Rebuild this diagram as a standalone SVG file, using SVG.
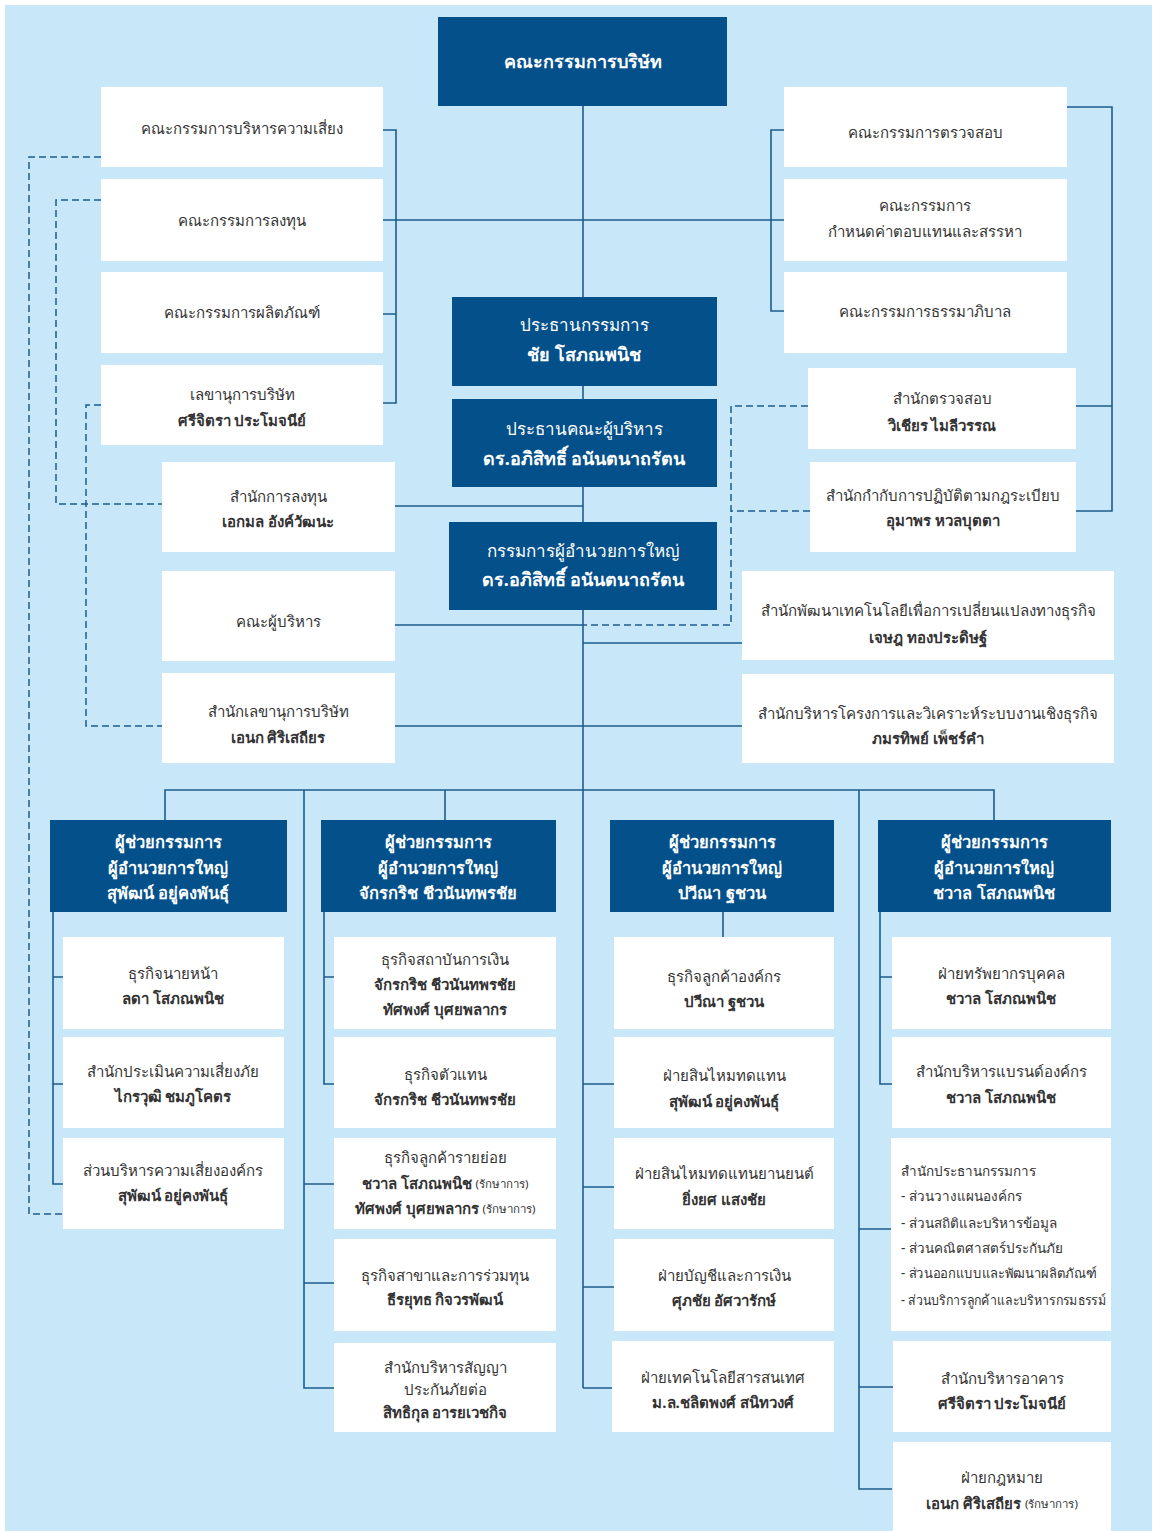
<svg xmlns="http://www.w3.org/2000/svg" width="1157" height="1531" viewBox="0 0 1157 1531">
<style>
.bg{fill:#C8E8FA}
.dk{fill:#04508A}
.wt{fill:#FFFFFF}
.ln{stroke:#1C5C8F;stroke-width:1.6;fill:none}
.ds{stroke:#1C5C8F;stroke-width:1.5;fill:none;stroke-dasharray:7 4}
text{font-family:"Noto Sans","DejaVu Sans",sans-serif;text-anchor:middle;dominant-baseline:central}
.t{fill:#333333;font-size:15px}
.tb{fill:#333333;font-size:15px;font-weight:bold}
.ts{fill:#333333;font-size:11.5px;font-weight:normal}
.h{fill:#FFFFFF;font-size:16.5px;font-weight:bold}
.hc{fill:#FFFFFF;font-size:18px;font-weight:bold}
.hn{fill:#FFFFFF;font-size:17px}
.tl{fill:#333333;font-size:13.5px;text-anchor:start}
</style>
<rect class="bg" x="5" y="5" width="1147" height="1526"/>
<g id="connectors">
<path class="ln" d="M583,106 V1388"/>
<path class="ln" d="M383,130 H396 V403 H383 M383,314 H396 M383,220 H784"/>
<path class="ln" d="M784,130 H771 V311 H784"/>
<path class="ln" d="M1067,107 H1112 V511 H1076 M1076,406 H1112"/>
<path class="ln" d="M395,506 H583 M395,625 H583 M395,726 H742 M583,643 H742"/>
<path class="ln" d="M165,820 V790 H994 V820 M445,790 V820"/>
<path class="ln" d="M53,912 V1184 H63 M53,977 H63 M53,1084 H63"/>
<path class="ln" d="M324,912 V1084 H334 M324,977 H334"/>
<path class="ln" d="M304,790 V1388 H334 M304,1184 H334 M304,1283 H334"/>
<path class="ln" d="M723,912 V937 M583,1084 H614 M583,1187 H614 M583,1287 H614 M583,1388 H612"/>
<path class="ln" d="M880,912 V1084 H892 M880,977 H892"/>
<path class="ln" d="M859,790 V1489 H892 M859,1229 H891 M859,1387 H893"/>
<path class="ds" d="M101,157 H29 V1214 H63"/>
<path class="ds" d="M101,200 H56 V504 H162"/>
<path class="ds" d="M101,405 H86 V726 H162"/>
<path class="ds" d="M808,406 H731 V625 H583 M810,511 H731"/>
</g>
<g id="board"><rect class="dk" x="438" y="17" width="289" height="89"/><text class="hc" x="583" y="61" font-size="20">คณะกรรมการบริษัท</text></g>
<g id="risk"><rect class="wt" x="101" y="87" width="282" height="80"/><text class="t" x="242" y="128" font-size="16.5">คณะกรรมการบริหารความเสี่ยง</text></g>
<g id="invest"><rect class="wt" x="101" y="179" width="282" height="82"/><text class="t" x="242" y="220" font-size="16.5">คณะกรรมการลงทุน</text></g>
<g id="product"><rect class="wt" x="101" y="272" width="282" height="81"/><text class="t" x="242" y="312" font-size="16.5">คณะกรรมการผลิตภัณฑ์</text></g>
<g id="secretary"><rect class="wt" x="101" y="365" width="282" height="80"/><text class="t" x="242" y="394" font-size="16">เลขานุการบริษัท</text><text class="tb" x="242" y="420" font-size="16.5">ศรีจิตรา ประโมจนีย์</text></g>
<g id="audit"><rect class="wt" x="784" y="87" width="283" height="80"/><text class="t" x="925" y="132" font-size="16">คณะกรรมการตรวจสอบ</text></g>
<g id="nomination"><rect class="wt" x="784" y="179" width="283" height="82"/><text class="t" x="925" y="205" font-size="16">คณะกรรมการ</text><text class="t" x="925" y="231" font-size="16">กำหนดค่าตอบแทนและสรรหา</text></g>
<g id="governance"><rect class="wt" x="784" y="272" width="283" height="81"/><text class="t" x="925" y="311" font-size="16">คณะกรรมการธรรมาภิบาล</text></g>
<g id="chairman"><rect class="dk" x="452" y="297" width="265" height="89"/><text class="hn" x="584" y="324">ประธานกรรมการ</text><text class="hc" x="584" y="354">ชัย โสภณพนิช</text></g>
<g id="exec-chair"><rect class="dk" x="452" y="399" width="265" height="88"/><text class="hn" x="584" y="428">ประธานคณะผู้บริหาร</text><text class="hc" x="584" y="458">ดร.อภิสิทธิ์ อนันตนาถรัตน</text></g>
<g id="president"><rect class="dk" x="449" y="522" width="268" height="88"/><text class="hn" x="583" y="550">กรรมการผู้อำนวยการใหญ่</text><text class="hc" x="583" y="579">ดร.อภิสิทธิ์ อนันตนาถรัตน</text></g>
<g id="internal-audit"><rect class="wt" x="808" y="368" width="268" height="81"/><text class="t" x="942" y="398">สำนักตรวจสอบ</text><text class="tb" x="942" y="425">วิเชียร ไมลีวรรณ</text></g>
<g id="compliance"><rect class="wt" x="810" y="462" width="266" height="90"/><text class="t" x="943" y="495">สำนักกำกับการปฏิบัติตามกฎระเบียบ</text><text class="tb" x="943" y="520">อุมาพร หวลบุตตา</text></g>
<g id="investment-office"><rect class="wt" x="162" y="462" width="233" height="90"/><text class="t" x="278" y="496">สำนักการลงทุน</text><text class="tb" x="278" y="521">เอกมล อังค์วัฒนะ</text></g>
<g id="management"><rect class="wt" x="162" y="571" width="233" height="90"/><text class="t" x="278" y="621">คณะผู้บริหาร</text></g>
<g id="corp-secretary"><rect class="wt" x="162" y="673" width="233" height="90"/><text class="t" x="278" y="711">สำนักเลขานุการบริษัท</text><text class="tb" x="278" y="737">เอนก ศิริเสถียร</text></g>
<g id="tech-transform"><rect class="wt" x="742" y="571" width="372" height="89"/><text class="t" x="928" y="610">สำนักพัฒนาเทคโนโลยีเพื่อการเปลี่ยนแปลงทางธุรกิจ</text><text class="tb" x="928" y="637">เจษฎ ทองประดิษฐ์</text></g>
<g id="project-office"><rect class="wt" x="742" y="674" width="372" height="89"/><text class="t" x="928" y="713">สำนักบริหารโครงการและวิเคราะห์ระบบงานเชิงธุรกิจ</text><text class="tb" x="928" y="738">ภมรทิพย์ เพ็ชร์คำ</text></g>
<g id="col1-head"><rect class="dk" x="50" y="820" width="237" height="92"/><text class="h" x="168" y="841">ผู้ช่วยกรรมการ</text><text class="h" x="168" y="867">ผู้อำนวยการใหญ่</text><text class="h" x="168" y="892">สุพัฒน์ อยู่คงพันธุ์</text></g>
<g id="col1-a"><rect class="wt" x="63" y="937" width="221" height="92"/><text class="t" x="173" y="973">ธุรกิจนายหน้า</text><text class="tb" x="173" y="998">ลดา โสภณพนิช</text></g>
<g id="col1-b"><rect class="wt" x="63" y="1037" width="221" height="91"/><text class="t" x="173" y="1071">สำนักประเมินความเสี่ยงภัย</text><text class="tb" x="173" y="1096">ไกรวุฒิ ชมภูโคตร</text></g>
<g id="col1-c"><rect class="wt" x="63" y="1138" width="221" height="91"/><text class="t" x="173" y="1170">ส่วนบริหารความเสี่ยงองค์กร</text><text class="tb" x="173" y="1195">สุพัฒน์ อยู่คงพันธุ์</text></g>
<g id="col2-head"><rect class="dk" x="321" y="820" width="235" height="92"/><text class="h" x="438" y="841">ผู้ช่วยกรรมการ</text><text class="h" x="438" y="867">ผู้อำนวยการใหญ่</text><text class="h" x="438" y="892">จักรกริช ชีวนันทพรชัย</text></g>
<g id="col2-a"><rect class="wt" x="334" y="937" width="222" height="92"/><text class="t" x="445" y="959">ธุรกิจสถาบันการเงิน</text><text class="tb" x="445" y="984">จักรกริช ชีวนันทพรชัย</text><text class="tb" x="445" y="1009">ทัศพงศ์ บุศยพลากร</text></g>
<g id="col2-b"><rect class="wt" x="334" y="1037" width="222" height="91"/><text class="t" x="445" y="1074">ธุรกิจตัวแทน</text><text class="tb" x="445" y="1099">จักรกริช ชีวนันทพรชัย</text></g>
<g id="col2-c"><rect class="wt" x="334" y="1138" width="222" height="91"/><text class="t" x="445" y="1157">ธุรกิจลูกค้ารายย่อย</text><text class="tb" x="445" y="1183">ชวาล โสภณพนิช <tspan class="ts">(รักษาการ)</tspan></text><text class="tb" x="445" y="1208">ทัศพงศ์ บุศยพลากร <tspan class="ts">(รักษาการ)</tspan></text></g>
<g id="col2-d"><rect class="wt" x="334" y="1239" width="222" height="92"/><text class="t" x="445" y="1275">ธุรกิจสาขาและการร่วมทุน</text><text class="tb" x="445" y="1299">ธีรยุทธ กิจวรพัฒน์</text></g>
<g id="col2-e"><rect class="wt" x="334" y="1343" width="222" height="89"/><text class="t" x="445" y="1367">สำนักบริหารสัญญา</text><text class="t" x="445" y="1389">ประกันภัยต่อ</text><text class="tb" x="445" y="1412">สิทธิกุล อารยเวชกิจ</text></g>
<g id="col3-head"><rect class="dk" x="610" y="820" width="224" height="92"/><text class="h" x="722" y="841">ผู้ช่วยกรรมการ</text><text class="h" x="722" y="867">ผู้อำนวยการใหญ่</text><text class="h" x="722" y="892">ปวีณา ฐชวน</text></g>
<g id="col3-a"><rect class="wt" x="614" y="937" width="220" height="92"/><text class="t" x="724" y="976">ธุรกิจลูกค้าองค์กร</text><text class="tb" x="724" y="1001">ปวีณา ฐชวน</text></g>
<g id="col3-b"><rect class="wt" x="614" y="1037" width="220" height="91"/><text class="t" x="724" y="1075">ฝ่ายสินไหมทดแทน</text><text class="tb" x="724" y="1101">สุพัฒน์ อยู่คงพันธุ์</text></g>
<g id="col3-c"><rect class="wt" x="614" y="1138" width="220" height="91"/><text class="t" x="724" y="1173">ฝ่ายสินไหมทดแทนยานยนต์</text><text class="tb" x="724" y="1199">ยิ่งยศ แสงชัย</text></g>
<g id="col3-d"><rect class="wt" x="614" y="1239" width="220" height="92"/><text class="t" x="724" y="1275">ฝ่ายบัญชีและการเงิน</text><text class="tb" x="724" y="1300">ศุภชัย อัศวารักษ์</text></g>
<g id="col3-e"><rect class="wt" x="612" y="1341" width="222" height="91"/><text class="t" x="723" y="1377">ฝ่ายเทคโนโลยีสารสนเทศ</text><text class="tb" x="723" y="1402">ม.ล.ชลิตพงศ์ สนิทวงศ์</text></g>
<g id="col4-head"><rect class="dk" x="878" y="820" width="233" height="92"/><text class="h" x="994" y="841">ผู้ช่วยกรรมการ</text><text class="h" x="994" y="867">ผู้อำนวยการใหญ่</text><text class="h" x="994" y="892">ชวาล โสภณพนิช</text></g>
<g id="col4-a"><rect class="wt" x="892" y="937" width="219" height="92"/><text class="t" x="1001" y="973">ฝ่ายทรัพยากรบุคคล</text><text class="tb" x="1001" y="998">ชวาล โสภณพนิช</text></g>
<g id="col4-b"><rect class="wt" x="892" y="1037" width="219" height="91"/><text class="t" x="1001" y="1071">สำนักบริหารแบรนด์องค์กร</text><text class="tb" x="1001" y="1097">ชวาล โสภณพนิช</text></g>
<g id="col4-c"><rect class="wt" x="891" y="1138" width="220" height="193"/><text class="tl" x="901" y="1171">สำนักประธานกรรมการ</text><text class="tl" x="901" y="1196">- ส่วนวางแผนองค์กร</text><text class="tl" x="901" y="1223">- ส่วนสถิติและบริหารข้อมูล</text><text class="tl" x="901" y="1248">- ส่วนคณิตศาสตร์ประกันภัย</text><text class="tl" x="901" y="1273" textLength="196" lengthAdjust="spacingAndGlyphs">- ส่วนออกแบบและพัฒนาผลิตภัณฑ์</text><text class="tl" x="901" y="1300" textLength="205" lengthAdjust="spacingAndGlyphs">- ส่วนบริการลูกค้าและบริหารกรมธรรม์</text></g>
<g id="col4-d"><rect class="wt" x="893" y="1341" width="218" height="91"/><text class="t" x="1002" y="1378">สำนักบริหารอาคาร</text><text class="tb" x="1002" y="1403">ศรีจิตรา ประโมจนีย์</text></g>
<g id="col4-e"><rect class="wt" x="893" y="1442" width="218" height="89"/><text class="t" x="1002" y="1477">ฝ่ายกฎหมาย</text><text class="tb" x="1002" y="1503">เอนก ศิริเสถียร <tspan class="ts">(รักษาการ)</tspan></text></g>
</svg>
